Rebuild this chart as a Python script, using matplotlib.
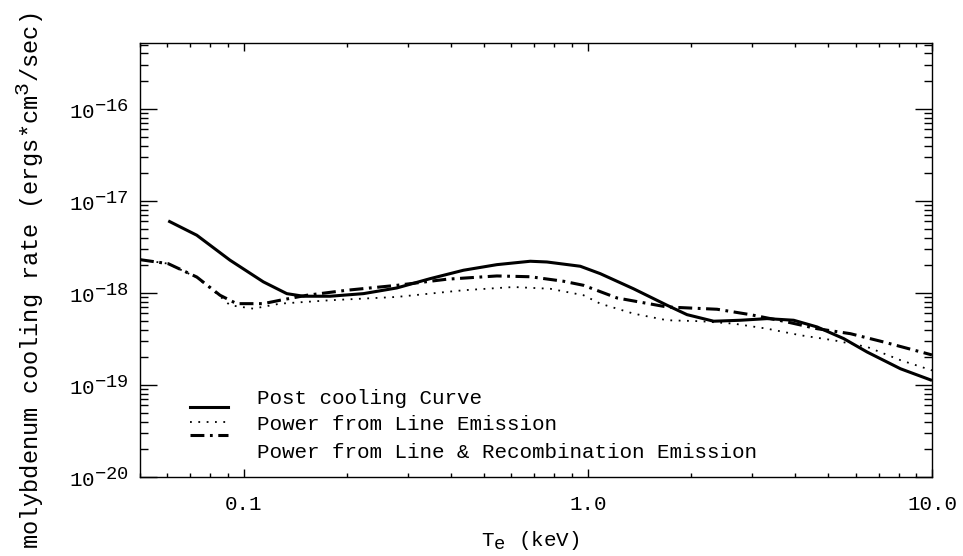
import matplotlib
matplotlib.use("Agg")
import matplotlib.pyplot as plt
from matplotlib.ticker import FixedLocator, LogLocator, NullFormatter, FixedFormatter
try:
    import matplotlib._mathtext as _mt
    _mt.SHRINK_FACTOR = 0.9
except Exception:
    pass

FONT = ['Liberation Mono', 'DejaVu Sans Mono', 'DejaVu Sans']
plt.rcParams['font.family'] = FONT
plt.rcParams['mathtext.fontset'] = 'custom'
plt.rcParams['mathtext.rm'] = 'Liberation Mono'
plt.rcParams['mathtext.it'] = 'Liberation Mono'
plt.rcParams['mathtext.bf'] = 'Liberation Mono'
plt.rcParams['lines.scale_dashes'] = False

# ---- data ----
post_T = [0.0604, 0.0731, 0.0913, 0.1141, 0.1335, 0.1492, 0.1784, 0.2229, 0.2787,
          0.3483, 0.4353, 0.5443, 0.6804, 0.7607, 0.951, 1.087, 1.358, 1.699, 1.942,
          2.321, 2.775, 3.317, 3.964, 4.637, 5.54, 6.48, 8.10, 10.0]
post_P = [6.07e-18, 4.24e-18, 2.27e-18, 1.32e-18, 9.83e-19, 9.21e-19, 9.21e-19, 9.83e-19,
          1.133e-18, 1.43e-18, 1.765e-18, 2.03e-18, 2.21e-18, 2.17e-18, 1.95e-18, 1.62e-18,
          1.11e-18, 7.35e-19, 5.81e-19, 4.93e-19, 5.05e-19, 5.26e-19, 5.05e-19, 4.27e-19,
          3.19e-19, 2.28e-19, 1.50e-19, 1.12e-19]

line_T = [0.05, 0.0604, 0.0731, 0.0854, 0.0913, 0.1067, 0.1276, 0.1784, 0.2787, 0.4353,
          0.6084, 0.778, 0.972, 1.087, 1.358, 1.699, 2.123, 2.653, 3.317, 4.146, 5.18,
          6.48, 8.10, 10.0]
line_P = [2.30e-18, 2.08e-18, 1.47e-18, 9.2e-19, 7.35e-19, 6.75e-19, 7.65e-19, 8.33e-19,
          9.05e-19, 1.07e-18, 1.16e-18, 1.11e-18, 9.44e-19, 7.65e-19, 5.96e-19, 5.05e-19,
          4.93e-19, 4.64e-19, 4.09e-19, 3.47e-19, 3.06e-19, 2.59e-19, 1.86e-19, 1.44e-19]

rec_T = [0.05, 0.0604, 0.0731, 0.0854, 0.0955, 0.1141, 0.1276, 0.1527, 0.1995, 0.2787,
         0.3896, 0.5443, 0.6804, 0.850, 0.972, 1.216, 1.699, 2.374, 2.967, 3.708, 4.637,
         5.79, 7.24, 10.0]
rec_P = [2.30e-18, 2.08e-18, 1.49e-18, 9.44e-19, 7.65e-19, 7.65e-19, 8.33e-19, 9.44e-19,
         1.07e-18, 1.21e-18, 1.41e-18, 1.53e-18, 1.50e-18, 1.34e-18, 1.21e-18, 8.82e-19,
         7.04e-19, 6.65e-19, 5.81e-19, 4.93e-19, 4.09e-19, 3.61e-19, 2.93e-19, 2.12e-19]

labels = ["Post cooling Curve", "Power from Line Emission",
          "Power from Line & Recombination Emission"]
x_ticks = [0.1, 1.0, 10.0]
x_ticklabels = ["0.1", "1.0", "10.0"]
y_ticks = [1e-20, 1e-19, 1e-18, 1e-17, 1e-16]
y_ticklabels = [r"$10^{-20}$", r"$10^{-19}$", r"$10^{-18}$", r"$10^{-17}$", r"$10^{-16}$"]

W, H = 963, 556
fig = plt.figure(figsize=(W / 100, H / 100), dpi=100)
L, R, T, B = 140, 932, 43, 477
ax = fig.add_axes([L / W, 1 - B / H, (R - L) / W, (B - T) / H])

styles = [dict(color='black', lw=2.2, linestyle='-'),
          dict(color='black', lw=1.3, dashes=(1.3, 4.7)),
          dict(color='black', lw=2.2, dashes=(10, 4, 2, 4))]

ax.plot(post_T, post_P, **styles[0], solid_capstyle='butt')
ax.plot(line_T, line_P, **styles[1])
ax.plot(rec_T, rec_P, **styles[2])

ax.set_xscale('log')
ax.set_yscale('log')
ax.set_xlim(0.05, 10.0)
ax.set_ylim(1e-20, 5.2e-16)

ax.xaxis.set_major_locator(FixedLocator(x_ticks))
ax.xaxis.set_major_formatter(FixedFormatter(x_ticklabels))
ax.xaxis.set_minor_locator(LogLocator(base=10, subs=range(2, 10)))
ax.xaxis.set_minor_formatter(NullFormatter())
ax.yaxis.set_major_locator(FixedLocator(y_ticks))
ax.yaxis.set_major_formatter(FixedFormatter(y_ticklabels))
ax.yaxis.set_minor_locator(LogLocator(base=10, subs=range(2, 10), numticks=20))
ax.yaxis.set_minor_formatter(NullFormatter())

ax.tick_params(which='both', direction='in', top=True, right=True, width=1.0, color='black')
ax.tick_params(axis='x', which='major', length=6, labelsize=15, pad=13)
ax.tick_params(axis='x', which='minor', length=3)
ax.tick_params(axis='y', which='major', length=12, labelsize=15, pad=8)
ax.tick_params(axis='y', which='minor', length=6)
for s in ax.spines.values():
    s.set_linewidth(1.0)

fig.text(530 / W, 1 - 540 / H, r"T$_{\rm e}$ (keV)", fontsize=15, ha='center', va='center')
fig.text(30 / W, 1 - 281 / H, r"molybdenum cooling rate (ergs*cm$^{3}$/sec)",
         fontsize=17, ha='center', va='center', rotation=90)

# legend drawn manually
def ax_xy(px, py):
    return (px - L) / (R - L), (B - py) / (B - T)

samples_y = [407, 422, 435]
text_y = [398, 424, 453]
for st, sy in zip(styles, samples_y):
    x0, y0 = ax_xy(190, sy)
    x1, _ = ax_xy(228, sy)
    ax.plot([x0, x1], [y0, y0], transform=ax.transAxes, **st)
for lab, ty in zip(labels, text_y):
    tx, tyy = ax_xy(257, ty)
    ax.text(tx, tyy, lab, transform=ax.transAxes, fontsize=15, va='center', ha='left')

fig.savefig("out.png", dpi=100)
